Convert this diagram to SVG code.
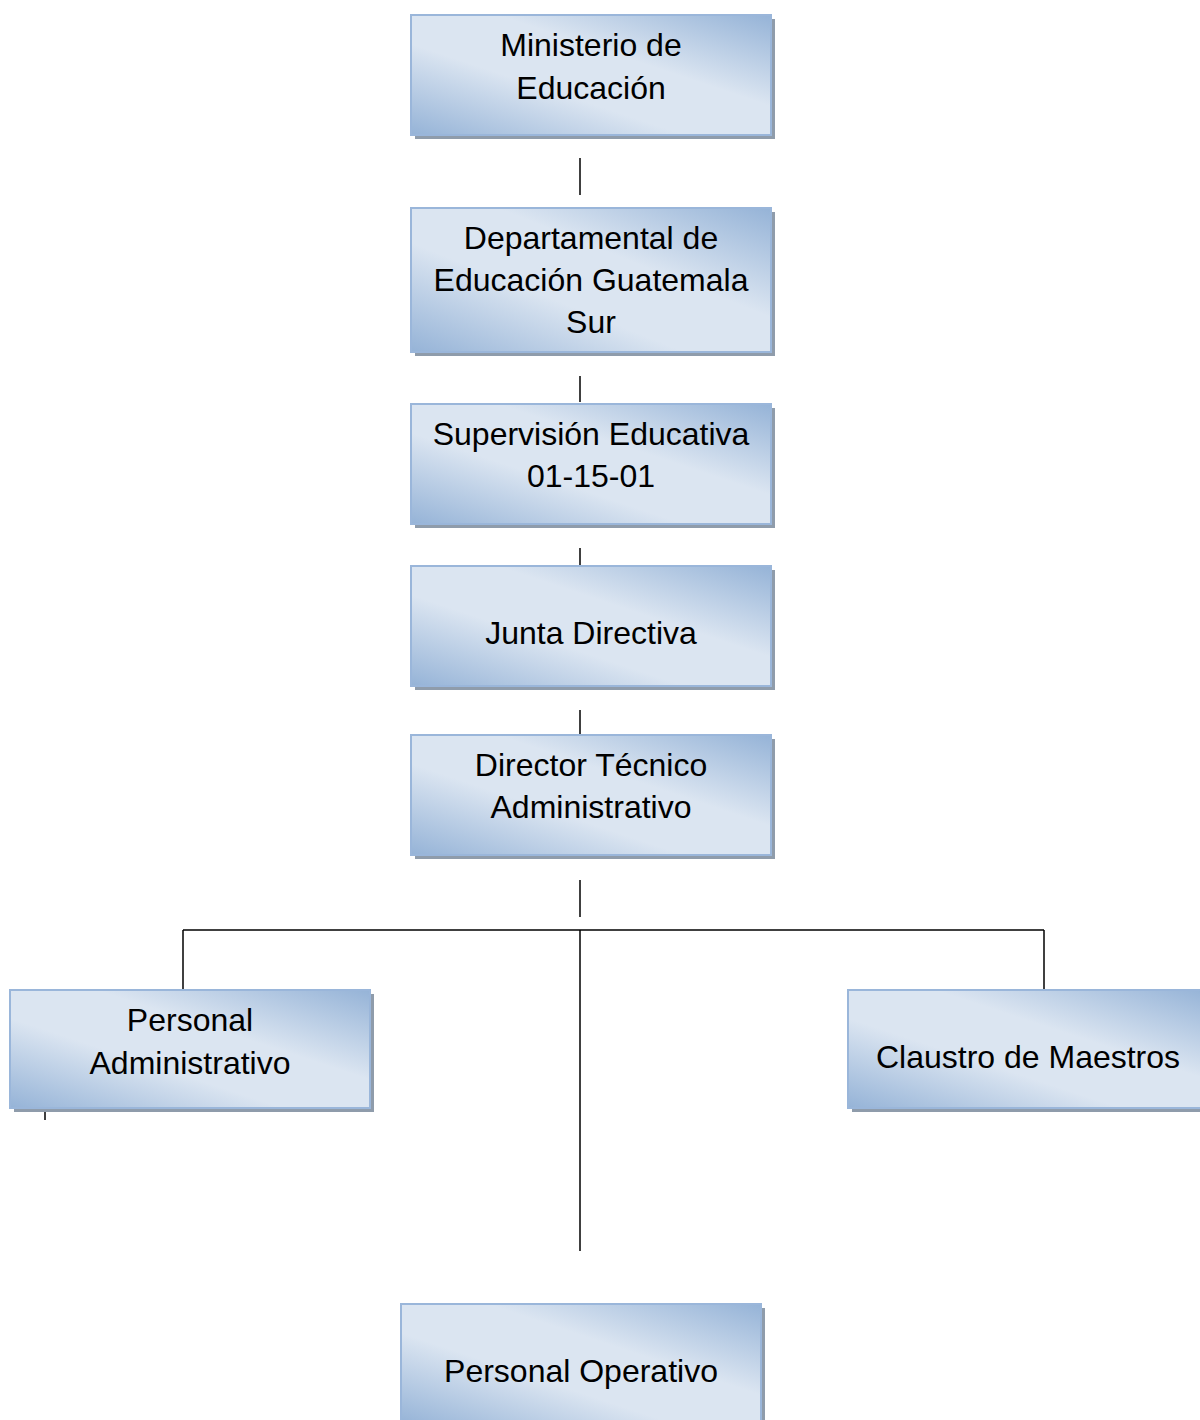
<svg xmlns="http://www.w3.org/2000/svg" width="1200" height="1420" viewBox="0 0 1200 1420">
<defs>
<linearGradient id="g" x1="1" y1="0" x2="0" y2="1">
<stop offset="0" stop-color="#95b3d7"/>
<stop offset="0.38" stop-color="#dbe5f1"/>
<stop offset="0.62" stop-color="#dbe5f1"/>
<stop offset="1" stop-color="#95b3d7"/>
</linearGradient>
</defs>
<style>
.sh{fill:#8f9cab}
.bx{fill:url(#g);stroke:#9ab6da;stroke-width:2}
.t{font-family:"Liberation Sans",Arial,sans-serif;font-size:32px;fill:#000;text-anchor:middle}
.c{stroke:#000;stroke-width:1.5;fill:none}
</style>
<rect width="1200" height="1420" fill="#fff"/>
<g id="connectors">
<line class="c" x1="580" y1="158" x2="580" y2="195"/>
<line class="c" x1="580" y1="376" x2="580" y2="402"/>
<line class="c" x1="580" y1="548" x2="580" y2="566"/>
<line class="c" x1="580" y1="710" x2="580" y2="734"/>
<line class="c" x1="580" y1="880" x2="580" y2="917"/>
<line class="c" x1="183" y1="930" x2="1044" y2="930"/>
<line class="c" x1="183" y1="930" x2="183" y2="990"/>
<line class="c" x1="1044" y1="930" x2="1044" y2="990"/>
<line class="c" x1="580" y1="930" x2="580" y2="1251"/>
<line class="c" x1="45" y1="1108" x2="45" y2="1120"/>
</g>
<g id="n1">
<rect class="sh" x="415" y="19" width="360" height="120"/>
<rect class="bx" x="411" y="15" width="360" height="120"/>
<text class="t" x="591" y="56">Ministerio de</text>
<text class="t" x="591" y="99">Educación</text>
</g>
<g id="n2">
<rect class="sh" x="415" y="212" width="360" height="144"/>
<rect class="bx" x="411" y="208" width="360" height="144"/>
<text class="t" x="591" y="249">Departamental de</text>
<text class="t" x="591" y="291">Educación Guatemala</text>
<text class="t" x="591" y="333">Sur</text>
</g>
<g id="n3">
<rect class="sh" x="415" y="408" width="360" height="120"/>
<rect class="bx" x="411" y="404" width="360" height="120"/>
<text class="t" x="591" y="445">Supervisión Educativa</text>
<text class="t" x="591" y="487">01-15-01</text>
</g>
<g id="n4">
<rect class="sh" x="415" y="570" width="360" height="120"/>
<rect class="bx" x="411" y="566" width="360" height="120"/>
<text class="t" x="591" y="644">Junta Directiva</text>
</g>
<g id="n5">
<rect class="sh" x="415" y="739" width="360" height="120"/>
<rect class="bx" x="411" y="735" width="360" height="120"/>
<text class="t" x="591" y="776">Director Técnico</text>
<text class="t" x="591" y="818">Administrativo</text>
</g>
<g id="n6">
<rect class="sh" x="14" y="994" width="360" height="118"/>
<rect class="bx" x="10" y="990" width="360" height="118"/>
<text class="t" x="190" y="1031">Personal</text>
<text class="t" x="190" y="1074">Administrativo</text>
</g>
<g id="n7">
<rect class="sh" x="852" y="994" width="360" height="118"/>
<rect class="bx" x="848" y="990" width="360" height="118"/>
<text class="t" x="1028" y="1068">Claustro de Maestros</text>
</g>
<g id="n8">
<rect class="sh" x="405" y="1308" width="360" height="120"/>
<rect class="bx" x="401" y="1304" width="360" height="120"/>
<text class="t" x="581" y="1382">Personal Operativo</text>
</g>
</svg>
